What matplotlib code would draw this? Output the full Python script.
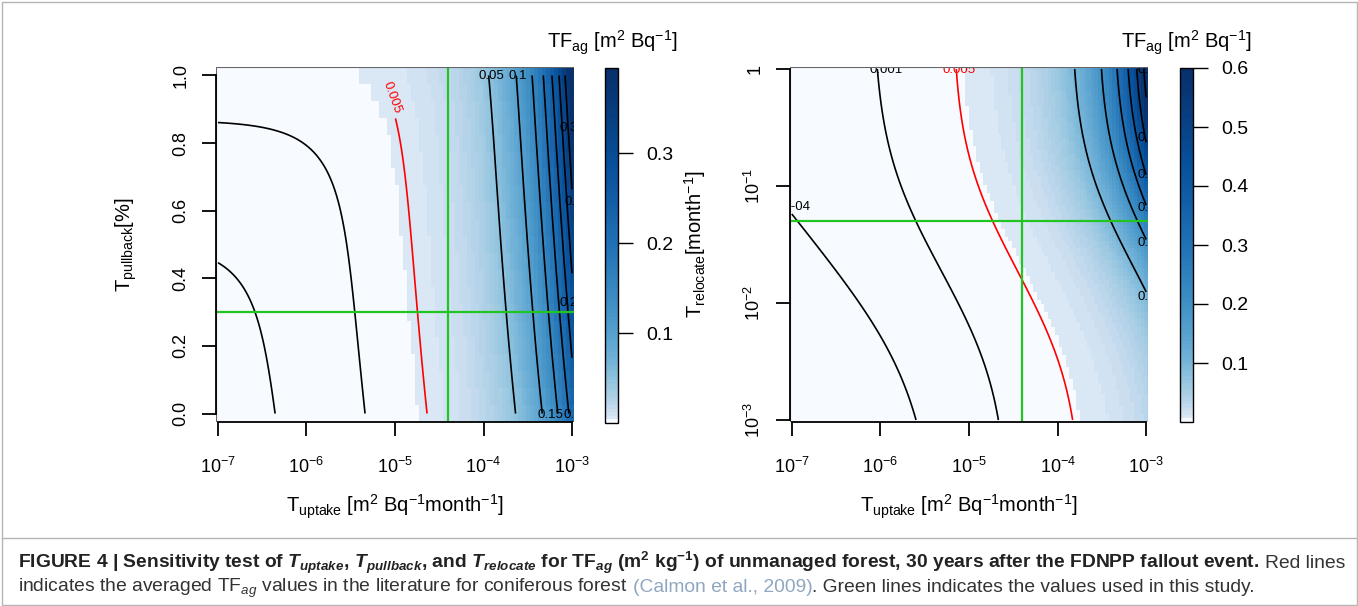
import numpy as np
import matplotlib
matplotlib.use("Agg")
import matplotlib.pyplot as plt
from matplotlib.colors import ListedColormap, BoundaryNorm
from matplotlib.patches import Rectangle
from matplotlib.lines import Line2D
from matplotlib import font_manager as fm

plt.rcParams['font.family'] = 'Liberation Sans'
plt.rcParams['mathtext.fontset'] = 'custom'
plt.rcParams['mathtext.rm'] = 'Liberation Sans'
plt.rcParams['mathtext.it'] = 'Liberation Sans:italic'
plt.rcParams['mathtext.bf'] = 'Liberation Sans:bold'
plt.rcParams['mathtext.bfit'] = 'Liberation Sans:italic:bold'

# ---- axes / ticks ----
uptake_ticks = [1e-7, 1e-6, 1e-5, 1e-4, 1e-3]
uptake_ticklabels = [r'$10^{-7}$', r'$10^{-6}$', r'$10^{-5}$', r'$10^{-4}$', r'$10^{-3}$']
pullback_ticks = [0.0, 0.2, 0.4, 0.6, 0.8, 1.0]
pullback_ticklabels = ['0.0', '0.2', '0.4', '0.6', '0.8', '1.0']
relocate_ticks = [1e-3, 1e-2, 1e-1, 1.0]
relocate_ticklabels = [r'$10^{-3}$', r'$10^{-2}$', r'$10^{-1}$', '1']

# ---- TF_ag response, read off the contour positions ----
# left:  TF = a0*exp(a1*p) + (k0 + k1*p) * uptake
pullback_base = [4.1e-6, 6.34]
pullback_gain = [217.0, 200.0]
# right: TF = (c0 + c1*log10(r)) + (k0 + k1*r/(r + r0)) * uptake
relocate_base = [4.1e-4, 3.0e-5]
relocate_gain = [25.0, 675.0, 0.1]

levels_left = [1e-4, 1e-3, 0.05, 0.1, 0.15, 0.2, 0.25, 0.3, 0.35]
levels_right = [4e-4, 1e-3, 0.1, 0.2, 0.3, 0.4, 0.5, 0.6]
literature_level = 0.005

cbar_ticks_left = [0.1, 0.2, 0.3]
cbar_ticks_right = [0.1, 0.2, 0.3, 0.4, 0.5, 0.6]
cbar_max_left = 0.395
cbar_max_right = 0.6

study_uptake = 4e-5
study_pullback = 0.3
study_relocate = 0.05

# contour labels as R placed them
clab_left = ['0.05', '0.1', '0.35', '0.3', '0.25', '0.15', '0.2']
clab_left_u = [10**-4.054, 10**-3.714, 10**-3.147, 10**-3.09, 10**-3.147, 10**-3.39, 10**-3.10]
clab_left_p = [0.997, 0.997, 0.846, 0.626, 0.326, -0.003, -0.003]
clab_right = ['0.001', '0.6', '0.5', '0.4', '0.3', '0.2', '0.1']
clab_right_u = [10**-6.127, 10**-3.102, 10**-3.102, 10**-3.102, 10**-3.102, 10**-3.102, 10**-3.102]
clab_right_r = [10**-0.005, 10**-0.009, 10**-0.59, 10**-0.906, 10**-1.188, 10**-1.487, 10**-1.949]
red_label_gap = 0.875   # red line is broken above this pullback for its label

W, H = 1358, 606
fig = plt.figure(figsize=(W / 100, H / 100), dpi=100)


def px_axes(x0, y0, x1, y1):
    return fig.add_axes([x0 / W, 1 - y1 / H, (x1 - x0) / W, (y1 - y0) / H])


def tf_left(u, p):
    return pullback_base[0] * np.exp(pullback_base[1] * p) + (pullback_gain[0] + pullback_gain[1] * p) * u


def tf_right(u, r):
    base = relocate_base[0] + relocate_base[1] * np.log10(r)
    gain = relocate_gain[0] + relocate_gain[1] * r / (r + relocate_gain[2])
    return base + gain * u


def make_cmap():
    n = 100
    cols = plt.get_cmap('Blues')((np.arange(n) / (n - 1)) ** 0.42)
    return ListedColormap(cols), n


def log_edges(lo, hi, n):
    d = (hi - lo) / (n - 1)
    return 10 ** np.linspace(lo - d / 2, hi + d / 2, n + 1)


def lin_edges(lo, hi, n):
    d = (hi - lo) / (n - 1)
    return np.linspace(lo - d / 2, hi + d / 2, n + 1)


def style_axes(ax):
    for s in ax.spines.values():
        s.set_visible(False)
    ax.add_patch(Rectangle((0, 0), 1, 1, transform=ax.transAxes, fill=False,
                           edgecolor='#666666', lw=0.8, zorder=6))
    for side in ('left', 'bottom'):
        ax.spines[side].set_visible(True)
        ax.spines[side].set_linewidth(1.3)
        ax.spines[side].set_zorder(7)
    ax.tick_params(direction='out', length=10, width=1.3, labelsize=13)
    ax.tick_params(axis='x', pad=15)
    ax.tick_params(axis='y', pad=9)
    ax.minorticks_off()


cmap, ncol = make_cmap()
GREEN = '#22c422'

# ================= left panel =================
ax1 = px_axes(216, 67, 574, 422)
nu, npb = 90, 21
ue = log_edges(-7, -3, nu)
pe = lin_edges(0, 1, npb)
uc = np.logspace(-7, -3, nu)
pc = np.linspace(0, 1, npb)
UC, PC = np.meshgrid(uc, pc)
norm1 = BoundaryNorm(np.linspace(0, cbar_max_left, ncol + 1), ncol)
mesh1 = ax1.pcolormesh(ue, pe, tf_left(UC, PC), cmap=cmap, norm=norm1, shading='flat')
ax1.set_xscale('log')
uf = np.logspace(-7, -3, 500)
pf = np.linspace(0, 1, 300)
UF, PF = np.meshgrid(uf, pf)
Z1 = tf_left(UF, PF)
ax1.contour(UF, PF, Z1, levels=levels_left, colors='black', linewidths=1.2, zorder=3)
ax1.contour(UF, PF, np.ma.masked_where(PF > red_label_gap, Z1), levels=[literature_level],
            colors='red', linewidths=1.2, zorder=3)
ax1.text(10**-5.035, 0.935, '0.005', color='red', fontsize=9.5, rotation=-70,
         ha='center', va='center', rotation_mode='anchor', clip_on=True, zorder=4)
for s, x, y in zip(clab_left, clab_left_u, clab_left_p):
    ax1.text(x, y, s, fontsize=9.5, ha='left', va='center', clip_on=True, zorder=4)
ax1.axvline(study_uptake, color=GREEN, lw=1.6, zorder=5)
ax1.axhline(study_pullback, color=GREEN, lw=1.6, zorder=5)
ax1.set_xlim(ue[0], ue[-1])
ax1.set_ylim(pe[0], pe[-1])
style_axes(ax1)
ax1.spines['bottom'].set_bounds(uptake_ticks[0], uptake_ticks[-1])
ax1.spines['left'].set_bounds(pullback_ticks[0], pullback_ticks[-1])
ax1.set_xticks(uptake_ticks, uptake_ticklabels)
ax1.set_yticks(pullback_ticks, pullback_ticklabels, rotation=90, va='center')
ax1.set_xlabel(r'T$_{\rm uptake}$ [m$^2$ Bq$^{-1}$month$^{-1}$]', fontsize=14.5)
ax1.xaxis.set_label_coords(0.5, -0.2)
ax1.set_ylabel(r'T$_{\rm pullback}$[%]', fontsize=14.5)
ax1.yaxis.set_label_coords(-0.215, 0.5)

cax1 = px_axes(605, 68, 618, 423)
cb1 = fig.colorbar(mesh1, cax=cax1, ticks=cbar_ticks_left)
cb1.ax.set_yticklabels(['0.1', '0.2', '0.3'])
cb1.outline.set_linewidth(1.0)
cax1.tick_params(length=11, width=1.0, labelsize=14, pad=9)
cax1.minorticks_off()
fig.text(612 / W, 1 - 43 / H, r'TF$_{\rm ag}$ [m$^2$ Bq$^{-1}$]', fontsize=14.5, ha='center', va='center')

# ================= right panel =================
ax2 = px_axes(790, 67, 1148, 422)
nu2, nr = 100, 90
ue2 = log_edges(-7, -3, nu2)
re2 = log_edges(-3, 0, nr)
uc2 = np.logspace(-7, -3, nu2)
rc2 = np.logspace(-3, 0, nr)
UC2, RC2 = np.meshgrid(uc2, rc2)
norm2 = BoundaryNorm(np.linspace(0, cbar_max_right, ncol + 1), ncol)
mesh2 = ax2.pcolormesh(ue2, re2, tf_right(UC2, RC2), cmap=cmap, norm=norm2, shading='flat')
ax2.set_xscale('log')
ax2.set_yscale('log')
rf = np.logspace(-3, 0, 400)
UF2, RF2 = np.meshgrid(uf, rf)
Z2 = tf_right(UF2, RF2)
ax2.contour(UF2, RF2, Z2, levels=levels_right, colors='black', linewidths=1.2, zorder=3)
ax2.contour(UF2, RF2, Z2, levels=[literature_level], colors='red', linewidths=1.2, zorder=3)
ax2.text(10**-5.30, 10**-0.005, '0.005', color='red', fontsize=9.5, ha='left', va='center',
         clip_on=True, zorder=4)
ax2.text(10**-6.785, 10**-1.18, '4e-04', fontsize=9.5, ha='right', va='center', clip_on=True, zorder=4)
for s, x, y in zip(clab_right, clab_right_u, clab_right_r):
    ax2.text(x, y, s, fontsize=9.5, ha='left', va='center', clip_on=True, zorder=4)
ax2.axvline(study_uptake, color=GREEN, lw=1.6, zorder=5)
ax2.axhline(study_relocate, color=GREEN, lw=1.6, zorder=5)
ax2.set_xlim(ue2[0], ue2[-1])
ax2.set_ylim(re2[0], re2[-1])
style_axes(ax2)
ax2.spines['bottom'].set_bounds(uptake_ticks[0], uptake_ticks[-1])
ax2.spines['left'].set_bounds(relocate_ticks[0], relocate_ticks[-1])
ax2.set_xticks(uptake_ticks, uptake_ticklabels)
ax2.set_yticks(relocate_ticks, relocate_ticklabels, rotation=90, va='center')
ax2.minorticks_off()
ax2.set_xlabel(r'T$_{\rm uptake}$ [m$^2$ Bq$^{-1}$month$^{-1}$]', fontsize=14.5)
ax2.xaxis.set_label_coords(0.5, -0.2)
ax2.set_ylabel(r'T$_{\rm relocate}$[month$^{-1}$]', fontsize=14.5)
ax2.yaxis.set_label_coords(-0.23, 0.5)

cax2 = px_axes(1180, 68, 1193, 422)
cb2 = fig.colorbar(mesh2, cax=cax2, ticks=cbar_ticks_right)
cb2.ax.set_yticklabels(['0.1', '0.2', '0.3', '0.4', '0.5', '0.6'])
cb2.outline.set_linewidth(1.0)
cax2.tick_params(length=11, width=1.0, labelsize=14, pad=9)
cax2.minorticks_off()
fig.text(1186 / W, 1 - 43 / H, r'TF$_{\rm ag}$ [m$^2$ Bq$^{-1}$]', fontsize=14.5, ha='center', va='center')

# ================= frame and caption =================
fig.add_artist(Rectangle((1.5 / W, 1.5 / H), (W - 3) / W, (H - 3) / H, transform=fig.transFigure,
                         fill=False, edgecolor='#b5b5b5', lw=1.0))
fig.add_artist(Line2D([1.5 / W, (W - 1.5) / W], [1 - 538 / H, 1 - 538 / H], transform=fig.transFigure,
                      color='#b5b5b5', lw=1.0))

try:
    fm.findfont(fm.FontProperties(family='Liberation Sans Narrow'), fallback_to_default=False)
    cap_family = 'Liberation Sans Narrow'
except ValueError:
    cap_family = 'Liberation Sans'

renderer = fig.canvas.get_renderer()
line1 = [
    (r'FIGURE 4 | Sensitivity test of $\mathbfit{T}_{\mathbfit{uptake}}$, $\mathbfit{T}_{\mathbfit{pullback}}$, '
     r'and $\mathbfit{T}_{\mathbfit{relocate}}$ for TF$_{\mathbfit{ag}}$ (m$^{\mathbf{2}}$ kg$^{\mathbf{-1}}$) '
     r'of unmanaged forest, 30 years after the FDNPP fallout event.', 'bold', '#222222'),
    (' ', None, None),
    ('Red lines', 'normal', '#333333'),
]
line2 = [
    (r'indicates the averaged TF$_{ag}$ values in the literature for coniferous forest', 'normal', '#333333'),
    (' ', None, None),
    ('(Calmon et al., 2009)', 'normal', '#8fa7c0'),
    ('. Green lines indicates the values used in this study.', 'normal', '#333333'),
]


def draw_line(x_px, y_px, pieces, size):
    made = []
    probe_a = fig.text(0, 0, 'n n', fontsize=size, family=cap_family)
    probe_b = fig.text(0, 0, 'nn', fontsize=size, family=cap_family)
    space_w = probe_a.get_window_extent(renderer).width - probe_b.get_window_extent(renderer).width
    probe_a.remove()
    probe_b.remove()
    x = x_px
    for s, weight, color in pieces:
        if s == ' ':
            x += space_w
            continue
        t = fig.text(x / W, 1 - y_px / H, s, fontsize=size, family=cap_family, weight=weight,
                     color=color, ha='left', va='baseline')
        x += t.get_window_extent(renderer).width
        made.append(t)
    return made, x - x_px


trial = 12.0
made, width = draw_line(18, 568, line1, trial)
for t in made:
    t.remove()
cap_size = trial * 1322 / width
draw_line(18, 568, line1, cap_size)
draw_line(18, 592, line2, cap_size)

fig.savefig('out.png', dpi=100)
